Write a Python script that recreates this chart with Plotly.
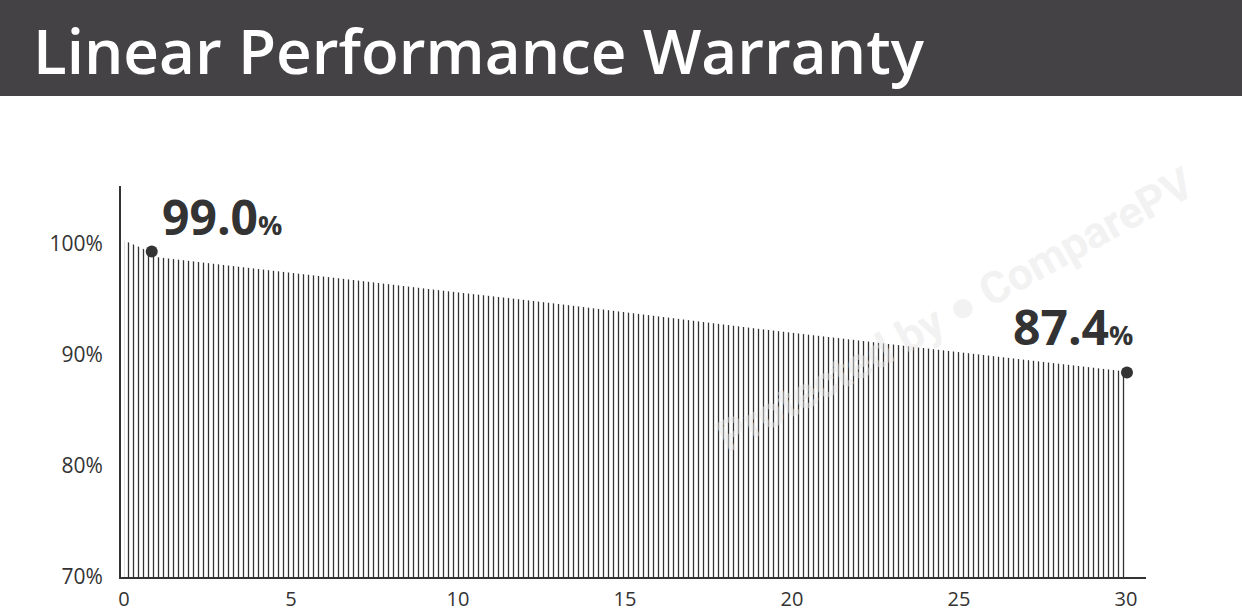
import plotly.graph_objects as go

# warranty curve (year, % of nameplate output)
years = [0.0, 0.55, 0.95, 4.76, 7.0, 9.5, 12.96, 19.1, 22.6, 30.0]
output_pct = [100.3, 99.6, 98.8, 97.5, 96.7, 95.8, 94.6, 92.3, 91.1, 88.5]

# the two highlighted points and their labels
mark_years = [0.83, 30.03]
mark_pct = [99.3, 88.4]
mark_labels = ["99.0", "87.4"]

x_ticks = [0, 5, 10, 15, 20, 25, 30]
y_ticks = [70, 80, 90, 100]
y_tick_text = ["70%", "80%", "90%", "100%"]

W, H = 1242, 613
ink = "#333333"

fig = go.Figure()

# hatched area: vertical lines under the curve
fig.add_trace(go.Scatter(
    x=years, y=output_pct,
    mode="lines", line=dict(width=0),
    fill="tozeroy", fillcolor="white",
    fillpattern=dict(shape="|", size=5, solidity=0.26, fgopacity=1,
                     fgcolor="#333333", bgcolor="white"),
    hoverinfo="skip", showlegend=False,
))

fig.add_trace(go.Scatter(
    x=mark_years, y=mark_pct, mode="markers",
    marker=dict(size=12, color=ink),
    showlegend=False,
))

# big value labels
label_pos = [(1.08, 102.45), (26.56, 92.55)]
for (lx, ly), txt in zip(label_pos, mark_labels):
    fig.add_annotation(
        x=lx, y=ly, xref="x", yref="y", xanchor="left", yanchor="middle",
        text="<b>%s</b><span style='font-size:27px'><b>%%</b></span>" % txt,
        showarrow=False,
        font=dict(family="Open Sans", size=48, color=ink),
    )

# faint watermark
fig.add_annotation(
    x=955 / W, y=1 - 310 / H, xref="paper", yref="paper",
    xanchor="center", yanchor="middle",
    text="<b>Protected by ● ComparePV</b>", textangle=-29,
    showarrow=False, opacity=0.5,
    font=dict(family="Roboto", size=44, color="#e6e6e6"),
)

# title band
fig.add_shape(type="rect", xref="paper", yref="paper",
              x0=0, x1=1, y0=1 - 96 / H, y1=1,
              fillcolor="#444244", line=dict(width=0), layer="below")
fig.add_annotation(
    x=31 / W, y=1 - 50 / H, xref="paper", yref="paper",
    xanchor="left", yanchor="middle",
    text="Linear Performance Warranty", showarrow=False,
    font=dict(family="Open Sans", size=62, color="white", weight=600),
)

fig.update_layout(
    width=W, height=H,
    margin=dict(l=0, r=0, t=0, b=0, autoexpand=False),
    paper_bgcolor="white", plot_bgcolor="white",
    xaxis=dict(
        domain=[121 / W, 1146 / W], range=[-0.09, 30.6],
        tickvals=x_ticks, showgrid=False, zeroline=False,
        showline=True, linecolor=ink, linewidth=2,
        ticks="", ticklabelstandoff=3, automargin=False,
        tickfont=dict(family="Open Sans", size=20, color=ink),
    ),
    yaxis=dict(
        domain=[36 / H, 427 / H], range=[70, 105.2],
        tickvals=y_ticks, ticktext=y_tick_text,
        showgrid=False, zeroline=False, automargin=False,
        showline=True, linecolor=ink, linewidth=2,
        ticks="", ticklabelstandoff=12,
        tickfont=dict(family="Open Sans", size=21, color=ink),
    ),
)

fig.write_html("out.html",
               config=dict(displayModeBar=False, responsive=False),
               post_script="document.body.style.margin='0';")
